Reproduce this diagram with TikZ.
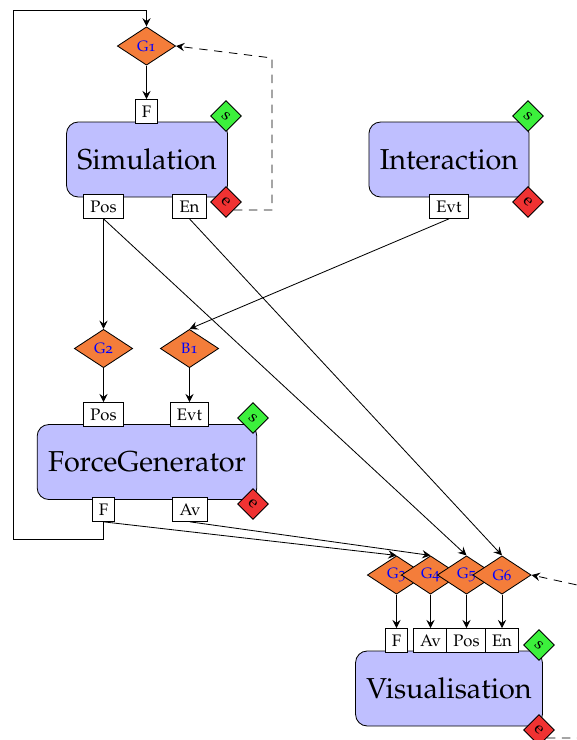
\documentclass[tikz,border=0pt]{standalone}
\usepackage[T1]{fontenc}
\usepackage[osf]{mathpazo}
\usetikzlibrary{shapes.geometric,arrows.meta}

\definecolor{gatecol}{RGB}{244,125,58}
\definecolor{startcol}{RGB}{60,240,60}
\definecolor{endcol}{RGB}{240,50,50}

\tikzset{
    block/.style={draw, fill=blue!25, rounded corners=7pt, font=\LARGE,
        inner xsep=6.5pt, minimum height=45pt},
    port/.style={draw, fill=white, inner xsep=4pt, inner ysep=0pt, minimum height=14.4pt},
    gate/.style={diamond, draw, fill=gatecol, text=blue, font=\small,
        minimum width=35pt, minimum height=23pt, inner sep=0pt},
    startmark/.style={draw, fill=startcol, rotate=-45, minimum size=13pt, inner sep=0pt},
    endmark/.style={draw, fill=endcol, rotate=-45, minimum size=13pt, inner sep=0pt},
    back/.style={->, dash pattern=on 5pt off 4pt},
}

\begin{document}
\begin{tikzpicture}[x=0.6pt, y=-0.6pt, line width=0.5pt,
    >={Stealth[length=5pt, width=5pt, inset=1.8pt]}]
    \useasboundingbox (0,0) rectangle (577,740);

    % blocks
    \node[block] (sim)   at (147,159.5) {Simulation};
    \node[block] (inter) at (449,159.5) {Interaction};
    \node[block] (fg)    at (147,462)   {ForceGenerator};
    \node[block] (vis)   at (449,688.5) {Visualisation};

    % start / end marks
    \node[startmark] (sims)   at (226,116) {s};
    \node[endmark]   (sime)   at (226,202) {e};
    \node[startmark] (inters) at (528,116) {s};
    \node[endmark]   (intere) at (528,202) {e};
    \node[startmark] (fgs)    at (253,418) {s};
    \node[endmark]   (fge)    at (253,504) {e};
    \node[startmark] (viss)   at (539,645) {s};
    \node[endmark]   (vise)   at (539,730) {e};

    % ports
    \node[port, anchor=south] (simF)     at (146.5,124) {F};
    \node[port, anchor=north] (simPos)   at (103.5,194) {Pos};
    \node[port, anchor=north] (simEn)    at (189.5,194) {En};
    \node[port, anchor=north] (interEvt) at (449,194)   {Evt};
    \node[port, anchor=south] (fgPos)    at (103.5,427) {Pos};
    \node[port, anchor=south] (fgEvt)    at (189.5,427) {Evt};
    \node[port, anchor=north] (fgF)      at (103.5,497) {F};
    \node[port, anchor=north] (fgAv)     at (190,497)   {Av};
    \node[port, anchor=south] (visF)     at (396.5,653) {F};
    \node[port, anchor=south] (visAv)    at (430.5,653) {Av};
    \node[port, anchor=south] (visPos)   at (466.5,653) {Pos};
    \node[port, anchor=south] (visEn)    at (502,653)   {En};

    % gates
    \node[gate] (G1) at (146.5,46)    {G1};
    \node[gate] (G2) at (103.5,348.5) {G2};
    \node[gate] (B1) at (189.5,348.5) {B1};
    \node[gate] (G3) at (396.5,575)   {G3};
    \node[gate] (G4) at (430.5,575)   {G4};
    \node[gate] (G5) at (466.5,575)   {G5};
    \node[gate] (G6) at (502,575)     {G6};

    % loop corners
    \coordinate (loopbot) at (13,539);
    \coordinate (looptop) at (13,10);
    \coordinate (simback) at (272,58);
    \coordinate (visback) at (600,590);

    % connections
    \draw[->] (G1.south) -- (simF.north);
    \draw[->] (simPos.south) -- (G2.north);
    \draw[->] (simPos.south) -- (G5.north);
    \draw[->] (simEn.south) -- (G6.north);
    \draw[->] (interEvt.south) -- (B1.north);
    \draw[->] (G2.south) -- (fgPos.north);
    \draw[->] (B1.south) -- (fgEvt.north);
    \draw[->] (fgF.south) -- (G3.north);
    \draw[->] (fgAv.south) -- (G4.north);
    \draw[->] (G3.south) -- (visF.north);
    \draw[->] (G4.south) -- (visAv.north);
    \draw[->] (G5.south) -- (visPos.north);
    \draw[->] (G6.south) -- (visEn.north);

    % feedback
    \draw[->] (fgF.south) |- (loopbot) -- (looptop) -| (G1.north);
    \draw[back] (sime.east) -| (simback) -- (G1.east);
    \draw[back] (vise.east) -| (visback) -- (G6.east);
\end{tikzpicture}
\end{document}
